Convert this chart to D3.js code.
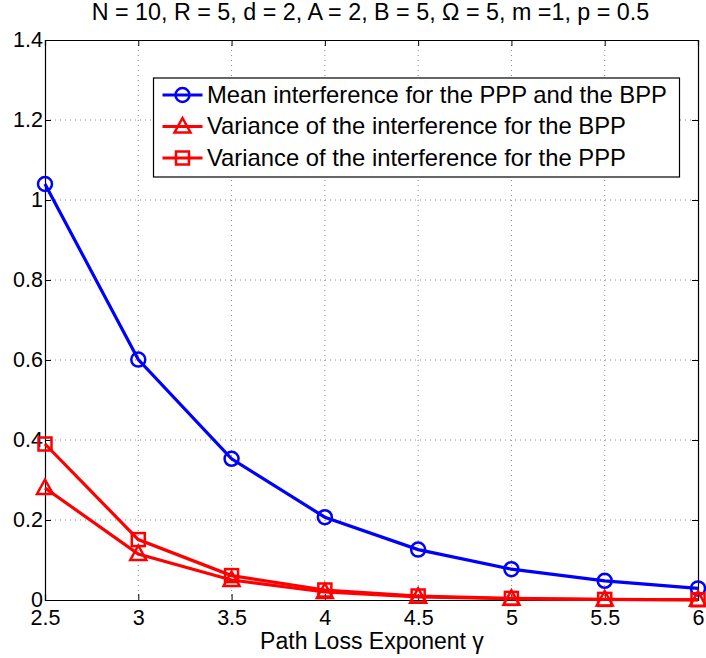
<!DOCTYPE html>
<html>
<head>
<meta charset="utf-8">
<script src="https://cdn.jsdelivr.net/npm/d3@7"></script>
<style>
  body { margin: 0; background: #fff; }
  svg { display: block; font-family: "Liberation Sans", Arial, sans-serif; }
</style>
</head>
<body>
<svg id="main-svg" width="706" height="658"></svg>
<script>
// data
const gammaValues = [2.5, 3, 3.5, 4, 4.5, 5, 5.5, 6];
const meanInterference = [1.04, 0.601, 0.353, 0.207, 0.126, 0.077, 0.048, 0.029];
const varianceBPP = [0.28, 0.115, 0.05, 0.02, 0.008, 0.003, 0.0012, 0.0005];
const variancePPP = [0.39, 0.151, 0.061, 0.025, 0.01, 0.004, 0.0015, 0.0006];
const xTicks = [2.5, 3, 3.5, 4, 4.5, 5, 5.5, 6];
const yTicks = [0, 0.2, 0.4, 0.6, 0.8, 1, 1.2, 1.4];
const legendLabels = [
    "Mean interference for the PPP and the BPP",
    "Variance of the interference for the BPP",
    "Variance of the interference for the PPP"
];

const svg = d3.select("#main-svg");
const margin = { top: 40, right: 8, bottom: 58, left: 45 };
const width = 706 - margin.left - margin.right;
const height = 658 - margin.top - margin.bottom;

const g = svg.append("g").attr("transform", `translate(${margin.left},${margin.top})`);

const x = d3.scaleLinear().domain([2.5, 6]).range([0, width]);
const y = d3.scaleLinear().domain([0, 1.4]).range([height, 0]);

// grid lines (dotted)
g.append("g").selectAll("line").data(xTicks.slice(1, -1)).join("line")
    .attr("x1", d => x(d)).attr("x2", d => x(d))
    .attr("y1", 0).attr("y2", height)
    .attr("stroke", "#888").attr("stroke-width", 1).attr("stroke-dasharray", "1,4");
g.append("g").selectAll("line").data(yTicks.slice(1, -1)).join("line")
    .attr("y1", d => y(d)).attr("y2", d => y(d))
    .attr("x1", 0).attr("x2", width)
    .attr("stroke", "#888").attr("stroke-width", 1).attr("stroke-dasharray", "1,4");

// axes with inward ticks on all sides
const fs = "21.5px";
g.append("g").attr("transform", `translate(0,${height})`)
    .call(d3.axisBottom(x).tickValues(xTicks).tickSize(-6).tickPadding(9.5).tickFormat(d3.format("")));
g.append("g")
    .call(d3.axisLeft(y).tickValues(yTicks).tickSize(-6).tickPadding(2).tickFormat(d3.format("")));
g.append("g").call(d3.axisTop(x).tickValues(xTicks).tickSize(-6).tickFormat(""));
g.append("g").attr("transform", `translate(${width},0)`)
    .call(d3.axisRight(y).tickValues(yTicks).tickSize(-6).tickFormat(""));
g.selectAll(".domain").attr("stroke", "#000").attr("stroke-width", 1.2);
g.selectAll(".tick line").attr("stroke", "#000");
g.selectAll(".tick text").attr("font-size", fs).attr("fill", "#000")
    .attr("font-family", "Liberation Sans, Arial, sans-serif");

// title and axis label
svg.append("text")
    .attr("x", 370.5).attr("y", 20)
    .attr("text-anchor", "middle").attr("font-size", "23.3px")
    .text("N = 10, R = 5, d = 2, A = 2, B = 5, \u03A9 = 5, m =1, p = 0.5");
svg.append("text")
    .attr("x", 372).attr("y", 649)
    .attr("text-anchor", "middle").attr("font-size", "23px")
    .text("Path Loss Exponent \u03B3");

// series
const series = [
    { values: meanInterference, color: "#0000ff", marker: "circle" },
    { values: varianceBPP, color: "#ff0000", marker: "triangle" },
    { values: variancePPP, color: "#ff0000", marker: "square" }
];

function drawMarker(sel, type, color) {
    if (type === "circle") {
        sel.append("circle").attr("r", 7);
    } else if (type === "triangle") {
        sel.append("path").attr("d", "M0,-8.5L8,6L-8,6Z");
    } else {
        sel.append("rect").attr("x", -6.5).attr("y", -6.5).attr("width", 13).attr("height", 13);
    }
    sel.selectAll("circle,path,rect").attr("fill", "none").attr("stroke", color).attr("stroke-width", 2.5);
}

const line = d3.line().x((d, i) => x(gammaValues[i])).y(d => y(d));

series.forEach(s => {
    g.append("path").datum(s.values)
        .attr("fill", "none").attr("stroke", s.color).attr("stroke-width", 3.2)
        .attr("d", line);
    g.append("g").selectAll("g").data(s.values).join("g")
        .attr("transform", (d, i) => `translate(${x(gammaValues[i])},${y(d)})`)
        .each(function () { drawMarker(d3.select(this), s.marker, s.color); });
});

// legend
const legend = svg.append("g").attr("transform", "translate(153.5,78)");
legend.append("rect").attr("width", 526).attr("height", 99)
    .attr("fill", "#fff").attr("stroke", "#000").attr("stroke-width", 1.2);
series.forEach((s, i) => {
    const row = legend.append("g").attr("transform", `translate(0,${17 + i * 31.5})`);
    row.append("line").attr("x1", 9).attr("x2", 49).attr("y1", 0).attr("y2", 0)
        .attr("stroke", s.color).attr("stroke-width", 3.2);
    const m = row.append("g").attr("transform", "translate(29,0)");
    drawMarker(m, s.marker, s.color);
    row.append("text").attr("x", 53.5).attr("y", 7.5)
        .attr("font-size", "23.8px").text(legendLabels[i]);
});
</script>
</body>
</html>
